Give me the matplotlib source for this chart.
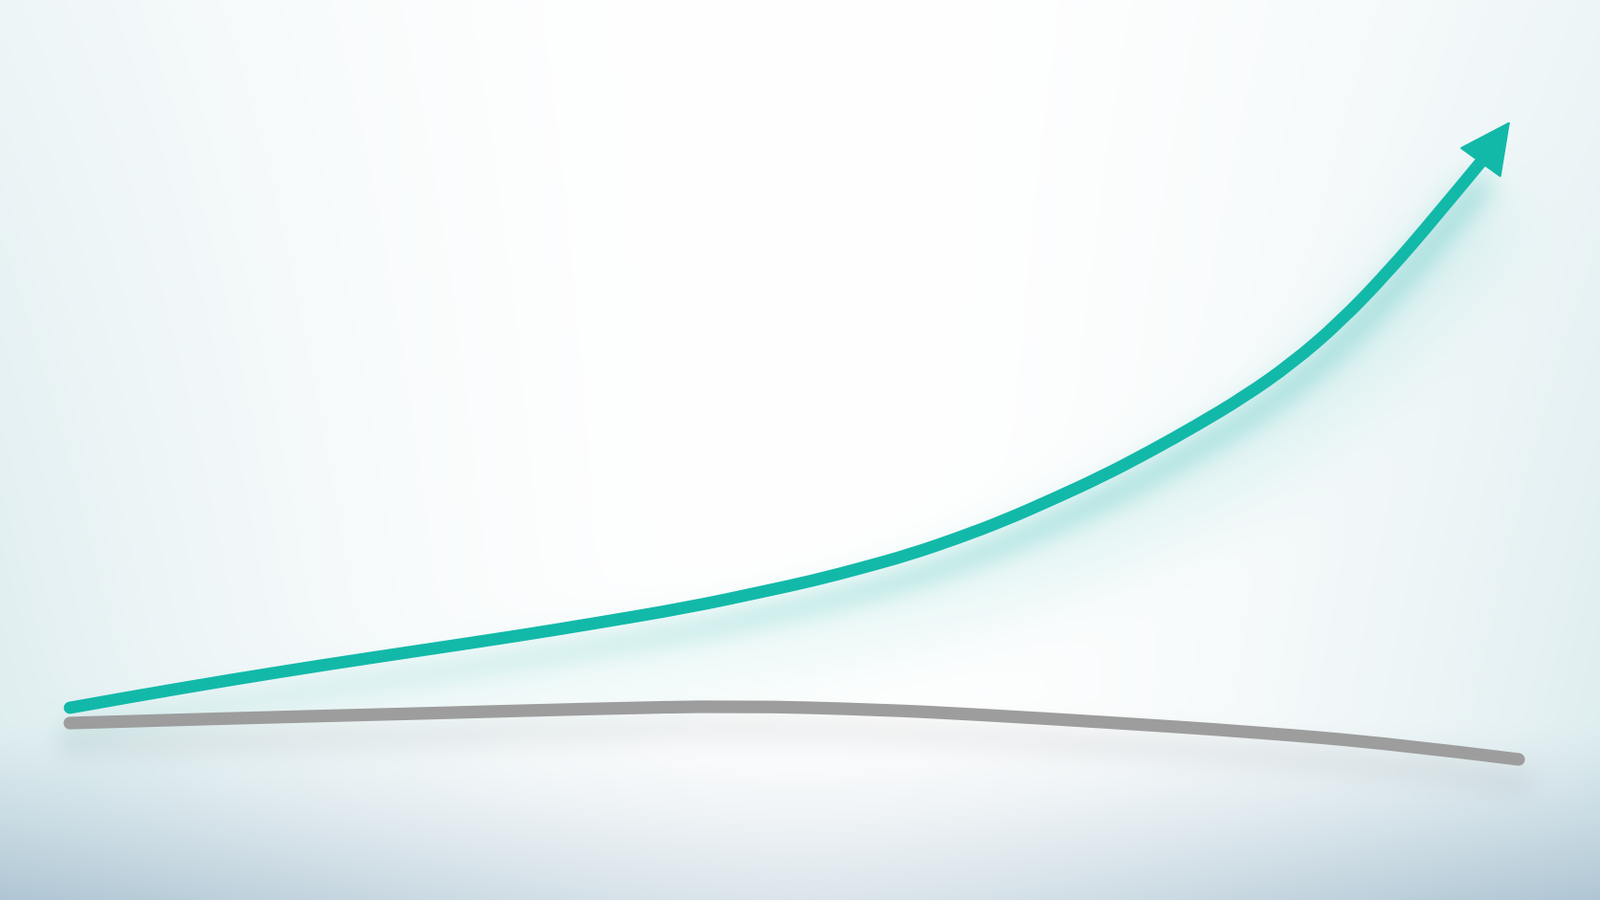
import numpy as np
import matplotlib
matplotlib.use("Agg")
import matplotlib.pyplot as plt
from matplotlib.path import Path
from matplotlib.patches import PathPatch

# picture coordinates in pixels (x right, y down)
teal_x = [73, 140, 240, 340, 440, 540, 620, 720, 800, 850, 900, 950, 1000, 1050,
          1100, 1150, 1200, 1250, 1300, 1350, 1400, 1450, 1500, 1547]
teal_y = [740, 728, 711, 695, 680, 665, 652, 635, 618, 607, 594, 580, 563, 544,
          522, 499, 473, 445, 415, 380, 337, 285, 227, 170]
arrow_tip = (1578, 127)

gray_x = [73, 240, 440, 620, 770, 920, 1020, 1153, 1306, 1459, 1587]
gray_y = [756, 751, 746, 741, 738, 742, 747, 755, 765, 778, 794]

W, H = 1672, 941
TEAL = "#12b9a9"
GRAY = "#9d9d9d"


def smooth_path(xs, ys):
    # quadratic bezier through the midpoints, ends pinned to first/last point
    pts = list(zip(xs, ys))
    verts = [pts[0]]
    codes = [Path.MOVETO]
    n = len(pts)
    for i in range(1, n - 1):
        if i < n - 2:
            end = ((pts[i][0] + pts[i + 1][0]) / 2, (pts[i][1] + pts[i + 1][1]) / 2)
        else:
            end = pts[-1]
        verts += [pts[i], end]
        codes += [Path.CURVE3, Path.CURVE3]
    return Path(verts, codes)


def gauss_blur(a, sigma):
    fy = np.fft.fftfreq(a.shape[0])[:, None]
    fx = np.fft.rfftfreq(a.shape[1])[None, :]
    k = np.exp(-2 * (np.pi * sigma) ** 2 * (fx ** 2 + fy ** 2))
    return np.fft.irfft2(np.fft.rfft2(a) * k, s=a.shape)


def render_mask(xs, ys, lw, shift):
    f = plt.figure(figsize=(W / 100, H / 100), dpi=100, facecolor="black")
    a = f.add_axes([0, 0, 1, 1])
    a.set_xlim(0, W)
    a.set_ylim(H, 0)
    a.axis("off")
    a.add_patch(PathPatch(smooth_path(xs, np.array(ys) + shift), fill=False,
                          lw=lw, ec="white", capstyle="round"))
    f.canvas.draw()
    m = np.asarray(f.canvas.buffer_rgba())[..., 0].astype(float) / 255
    plt.close(f)
    return m


# background: white upper middle, cyan-grey sides, blue-grey bottom band
yy, xx = np.mgrid[0:H, 0:W]
u = xx / W
v = yy / H
side = np.abs(u - 0.5) * 2
e = np.clip(side, 0, 1) ** 2.0 * (0.5 + 0.5 * v)
img = np.ones((H, W, 3))
c1 = np.array([220, 236, 239]) / 255
img = img * (1 - e[..., None]) + c1 * e[..., None]
b = np.clip((v - 0.80) / 0.20, 0, 1) ** 1.3 * (0.45 + 0.55 * side ** 1.5)
c2 = np.array([176, 198, 212]) / 255
img = img * (1 - b[..., None]) + c2 * b[..., None]

# teal glow under the rising curve: a tight layer and a wide soft one
tm1 = gauss_blur(render_mask(teal_x, teal_y, 16, 24), 13)
tm2 = gauss_blur(render_mask(teal_x, teal_y, 40, 60), 35)
weight = np.clip(0.3 + 0.7 * (np.arange(W) - 250) / 900, 0.3, 1.0)
ga = (np.clip(tm1 * 1.3, 0, 1) * 0.38 + np.clip(tm2 * 1.2, 0, 1) * 0.16) * weight[None, :]
gcol = np.array([88, 199, 192]) / 255
img = img * (1 - ga[..., None]) + gcol * ga[..., None]

# soft grey shadow under the flat line
gm = gauss_blur(render_mask(gray_x, gray_y, 20, 22), 12)
sa = np.clip(gm * 1.2, 0, 1) * 0.13
scol = np.array([150, 152, 158]) / 255
img = img * (1 - sa[..., None]) + scol * sa[..., None]

fig = plt.figure(figsize=(W / 100, H / 100), dpi=100)
ax = fig.add_axes([0, 0, 1, 1])
ax.set_xlim(0, W)
ax.set_ylim(H, 0)
ax.axis("off")
ax.imshow(np.clip(img, 0, 1), extent=[0, W, H, 0], aspect="auto", zorder=0)

ax.add_patch(PathPatch(smooth_path(gray_x, gray_y), fill=False, lw=9.5, ec=GRAY,
                       capstyle="round", joinstyle="round", zorder=2))
ax.add_patch(PathPatch(smooth_path(teal_x, teal_y), fill=False, lw=9.2, ec=TEAL,
                       capstyle="round", joinstyle="round", zorder=3))
ax.annotate("", xy=arrow_tip, xytext=(teal_x[-1], teal_y[-1]),
            arrowprops=dict(arrowstyle="-|>,head_length=0.9,head_width=0.45",
                            mutation_scale=40, color=TEAL, lw=1.5,
                            shrinkA=0, shrinkB=0),
            zorder=4)

fig.savefig("out.png", dpi=100)
